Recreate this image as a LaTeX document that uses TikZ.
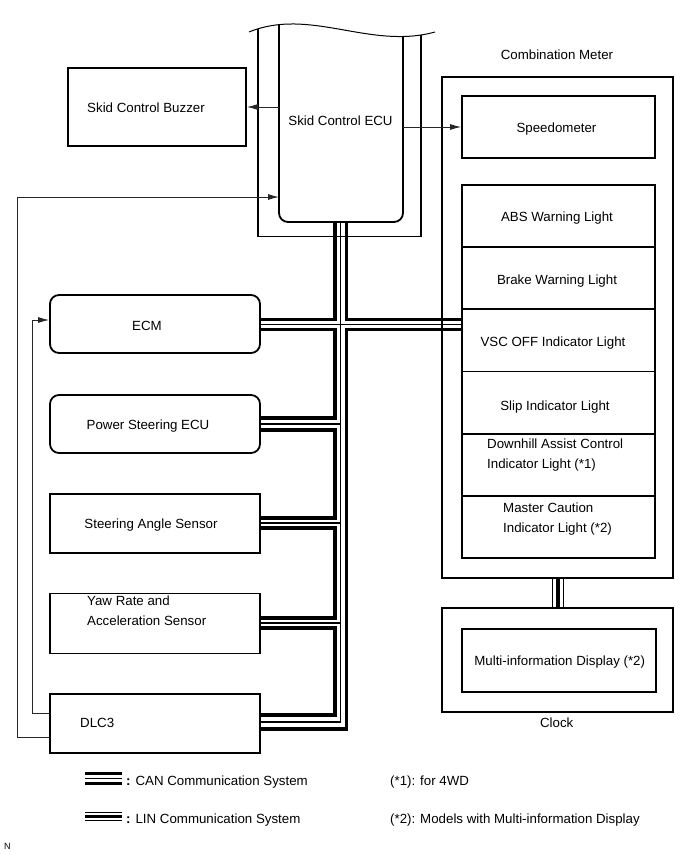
\documentclass[tikz,border=0pt]{standalone}
\usepackage{fontspec}
\setmainfont{Liberation Sans}
\usetikzlibrary{arrows.meta,calc}
\begin{document}
\begin{tikzpicture}[x=1pt,y=-1pt,
  font=\fontsize{13.3}{20}\selectfont,
  box/.style={draw,line width=1.8pt,inner sep=0pt},
  rbox/.style={box,rounded corners=9pt},
  can/.style={line width=3.8pt},
  busthin/.style={line width=1.1pt},
  con/.style={line width=0.9pt,draw=black!85},
  arr/.style={con,-{Latex[length=11pt,width=6pt]}},
  lbl/.style={inner sep=0pt,align=left,anchor=base}]
\useasboundingbox (0,0) rectangle (690,855);

% Skid Control ECU (cut-away)
\begin{scope}
\clip (249,32) .. controls (310,7) and (370,50) .. (435,32) -- (435,300) -- (249,300) -- cycle;
\draw[line width=1.8pt, rounded corners=9pt] (279,10) -- (279,222) -- (403,222) -- (403,10);
\draw[line width=1.8pt] (258,10) -- (258,236.5) -- (421,236.5) -- (421,10);
\end{scope}
\draw[line width=1pt] (249,32) .. controls (310,7) and (370,50) .. (435,32);
\node[lbl] (ecu) at (340.5,125) {Skid Control ECU};

% Buzzer
\node[box, minimum width=178pt, minimum height=78pt] (buz) at (157,107) {};
\node[lbl] at (146,112) {Skid Control Buzzer};

% Combination meter
\node[box, minimum width=231pt, minimum height=501pt] (cm) at (557.5,327.5) {};
\node[lbl] at (557,59) {Combination Meter};
\node[box, minimum width=193pt, minimum height=62pt] (spd) at (558.5,127) {};
\node[lbl] at (556.5,132) {Speedometer};
\node[box, minimum width=193pt, minimum height=62.2pt] (abs) at (558.5,216.1) {};
\node[box, minimum width=193pt, minimum height=62.2pt] (brk) at (558.5,278.3) {};
\node[box, minimum width=193pt, minimum height=62.2pt] (vsc) at (558.5,340.4) {};
\node[box, minimum width=193pt, minimum height=62.2pt] (slp) at (558.5,402.6) {};
\node[box, minimum width=193pt, minimum height=62.2pt] (dac) at (558.5,464.8) {};
\node[box, minimum width=193pt, minimum height=62.2pt] (mcl) at (558.5,526.9) {};
\node[lbl] at (557,221) {ABS Warning Light};
\node[lbl] at (557,284) {Brake Warning Light};
\node[lbl] at (553,346) {VSC OFF Indicator Light};
\node[lbl] at (555,410) {Slip Indicator Light};
\node[lbl, anchor=base west] at (487,448) {Downhill Assist Control};
\node[lbl, anchor=base west] at (487,468) {Indicator Light (*1)};
\node[lbl, anchor=base west] at (503,512) {Master Caution};
\node[lbl, anchor=base west] at (503,532) {Indicator Light (*2)};

% Clock
\node[box, minimum width=231pt, minimum height=104pt] (clk) at (557.5,660) {};
\node[box, minimum width=194pt, minimum height=63pt] (mid) at (559,660.5) {};
\node[lbl] at (559.7,665) {Multi-information Display (*2)};
\node[lbl] at (556.7,727) {Clock};

% Left column
\node[rbox, minimum width=210pt, minimum height=58pt] (ecm) at (155,324) {};
\node[lbl] at (147,330) {ECM};
\node[rbox, minimum width=210pt, minimum height=58pt] (pse) at (155,424) {};
\node[lbl] at (148,429) {Power Steering ECU};
\node[box, minimum width=210pt, minimum height=59pt] (sas) at (155,523.5) {};
\node[lbl] at (151,528) {Steering Angle Sensor};
\node[box, minimum width=210pt, minimum height=60pt] (yaw) at (155,623.5) {};
\node[lbl, anchor=base west] at (87,605) {Yaw Rate and};
\node[lbl, anchor=base west] at (87,625) {Acceleration Sensor};
\node[box, minimum width=210pt, minimum height=59pt] (dlc) at (155,723.5) {};
\node[lbl, anchor=base west] at (80,727) {DLC3};

% Signal lines
\draw[arr] (279,107) -- (buz.east);
\draw[arr] (403,127) -- (spd.west);
\draw[arr] (dlc.west |- 0,713) -- (32,713) -- (32,320) -- (ecm.west |- 0,320);
\draw[arr] (dlc.west |- 0,737) -- (17,737) -- (17,197) -- (279,197);

% CAN bus
\draw[can] (ecm.east |- 0,319.5) -| (335,222);
\draw[can] (346.5,222) |- (vsc.west |- 0,319.5);
\draw[busthin] (ecm.east |- 0,324.5) -- (vsc.west |- 0,324.5);
\draw[busthin] (340.5,222) |- (dlc.east |- 0,722);
\draw[can] (ecm.east |- 0,329.5) -| (335,418) -- (pse.east |- 0,418);
\draw[can] (vsc.west |- 0,329.5) -| (346.5,729) -- (dlc.east |- 0,729);
\draw[busthin] (pse.east |- 0,424) -- (340.5,424);
\draw[can] (pse.east |- 0,430) -| (335,518) -- (sas.east |- 0,518);
\draw[busthin] (sas.east |- 0,523) -- (340.5,523);
\draw[can] (sas.east |- 0,528) -| (335,618) -- (yaw.east |- 0,618);
\draw[busthin] (yaw.east |- 0,623) -- (340.5,623);
\draw[can] (yaw.east |- 0,628) -| (335,715) -- (dlc.east |- 0,715);

% LIN bus meter - clock
\draw[busthin] ([xshift=-4.8pt]cm.south) -- ([xshift=-4.8pt]clk.north);
\draw[can] ([xshift=0.5pt]cm.south) -- ([xshift=0.5pt]clk.north);
\draw[busthin] ([xshift=5.8pt]cm.south) -- ([xshift=5.8pt]clk.north);

% Legend
\coordinate (lgA) at (85,778.5);
\coordinate (lgB) at (122,778.5);
\draw[line width=3pt] ([yshift=4.8pt]lgA) -- ([yshift=4.8pt]lgB);
\draw[line width=1pt] (lgA) -- (lgB);
\draw[line width=3pt] ([yshift=-5.2pt]lgA) -- ([yshift=-5.2pt]lgB);
\node[lbl, anchor=base west] (lgcan) at (126,785) {\textbf{:} CAN Communication System};
\coordinate (lgC) at (85,816);
\coordinate (lgD) at (122,816);
\draw[line width=1pt] ([yshift=4pt]lgC) -- ([yshift=4pt]lgD);
\draw[line width=3pt] (lgC) -- (lgD);
\draw[line width=1pt] ([yshift=-4pt]lgC) -- ([yshift=-4pt]lgD);
\node[lbl, anchor=base west] (lglin) at (126,823) {\textbf{:} LIN Communication System};
\node[lbl, anchor=base west] at (390,785) {(*1): for 4WD};
\node[lbl, anchor=base west] at (390,823) {(*2): Models with Multi-information Display};
\node[lbl, anchor=base west, font=\fontsize{9}{10}\selectfont] at (4,849) {N};
\end{tikzpicture}
\end{document}
